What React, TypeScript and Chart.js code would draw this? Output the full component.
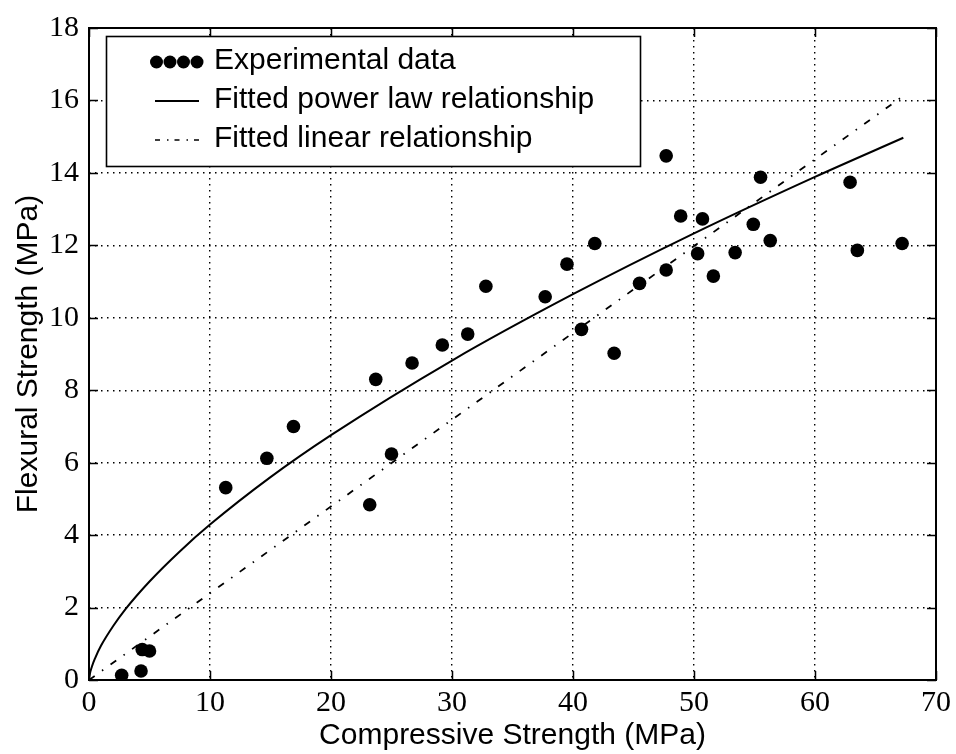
import React, { useEffect, useRef } from "react";
import { Chart, registerables } from "chart.js";

Chart.register(...registerables);

// ---- data ----
const expX = [2.7, 4.3, 4.4, 5.0, 11.3, 14.7, 16.9, 23.2, 23.7, 25.0, 26.7, 29.2, 31.3, 32.8, 37.7, 39.5, 40.7, 41.8, 43.4, 45.5, 47.7, 47.7, 48.9, 50.3, 50.7, 51.6, 53.4, 54.9, 55.5, 56.3, 62.9, 63.5, 67.2];
const expY = [0.13, 0.25, 0.84, 0.8, 5.31, 6.12, 7.0, 4.84, 8.3, 6.24, 8.75, 9.25, 9.55, 10.87, 10.58, 11.48, 9.68, 12.05, 9.02, 10.95, 11.32, 14.47, 12.81, 11.77, 12.73, 11.15, 11.8, 12.58, 13.88, 12.13, 13.74, 11.86, 12.05];

const powerX = [0, 0.05, 0.25, 0.5, 1, 2, 3, 5, 7.5, 10, 15, 20, 30, 40, 50, 60, 67.3];
const powerY = [0, 0.13, 0.38, 0.6, 0.95, 1.49, 1.95, 2.72, 3.55, 4.29, 5.6, 6.76, 8.82, 10.65, 12.33, 13.89, 14.97];

const linearX = [0, 67.2];
const linearY = [0, 16.1];

const xTickValues = [0, 10, 20, 30, 40, 50, 60, 70];
const yTickValues = [0, 2, 4, 6, 8, 10, 12, 14, 16, 18];

const seriesLabels = ["Experimental data", "Fitted power law relationship", "Fitted linear relationship"];
const xTitle = "Compressive Strength (MPa)";
const yTitle = "Flexural Strength (MPa)";

const DASH_DOT = [7, 9, 1.5, 9];
const SANS = '"Liberation Sans", Arial, sans-serif';
const SERIF = '"Liberation Serif", "Times New Roman", serif';

const overlayPlugin = {
  id: "overlay",
  afterDraw(chart: any) {
    const { ctx, chartArea: a, scales } = chart;
    const xs = scales.x;
    const ys = scales.y;
    ctx.save();
    ctx.strokeStyle = "#000";
    ctx.fillStyle = "#000";
    ctx.setLineDash([]);

    // inward ticks on all four sides
    ctx.lineWidth = 1.5;
    const TL = 9;
    ctx.beginPath();
    xs.ticks.forEach((t: any) => {
      const px = Math.round(xs.getPixelForValue(t.value)) + 0.5;
      ctx.moveTo(px, a.bottom);
      ctx.lineTo(px, a.bottom - TL);
      ctx.moveTo(px, a.top);
      ctx.lineTo(px, a.top + TL);
    });
    ys.ticks.forEach((t: any) => {
      const py = Math.round(ys.getPixelForValue(t.value)) + 0.5;
      ctx.moveTo(a.left, py);
      ctx.lineTo(a.left + TL, py);
      ctx.moveTo(a.right, py);
      ctx.lineTo(a.right - TL, py);
    });
    ctx.stroke();

    // frame
    ctx.lineWidth = 2;
    ctx.strokeRect(a.left, a.top, a.right - a.left, a.bottom - a.top);

    // legend box
    const lx = 106.5, ly = 36.5, lw = 534, lh = 130;
    ctx.fillStyle = "#fff";
    ctx.fillRect(lx, ly, lw, lh);
    ctx.lineWidth = 1.6;
    ctx.strokeStyle = "#000";
    ctx.strokeRect(lx, ly, lw, lh);

    ctx.fillStyle = "#000";
    // row 1: four dots
    [156.5, 170, 183.5, 197].forEach((cx) => {
      ctx.beginPath();
      ctx.arc(cx, 62, 6.5, 0, Math.PI * 2);
      ctx.fill();
    });
    // row 2: solid line
    ctx.lineWidth = 2;
    ctx.beginPath();
    ctx.moveTo(155, 101);
    ctx.lineTo(199, 101);
    ctx.stroke();
    // row 3: dash-dot
    ctx.lineWidth = 1.5;
    ctx.setLineDash([5, 7, 1.5, 6]);
    ctx.beginPath();
    ctx.moveTo(155, 140);
    ctx.lineTo(199, 140);
    ctx.stroke();
    ctx.setLineDash([]);

    ctx.font = `30px ${SANS}`;
    ctx.textAlign = "left";
    ctx.textBaseline = "alphabetic";
    ctx.fillText(seriesLabels[0], 214, 69);
    ctx.fillText(seriesLabels[1], 214, 108);
    ctx.fillText(seriesLabels[2], 214, 147);

    // axis titles
    ctx.textAlign = "center";
    ctx.fillText(xTitle, (a.left + a.right) / 2, 744);
    ctx.translate(37, (a.top + a.bottom) / 2);
    ctx.rotate(-Math.PI / 2);
    ctx.fillText(yTitle, 0, 0);
    ctx.restore();
  },
};

export default function App() {
  const ref = useRef<HTMLCanvasElement | null>(null);

  useEffect(() => {
    document.body.style.margin = "0";
    const canvas = ref.current;
    if (!canvas) return;

    const expData = expX.map((x, i) => ({ x, y: expY[i] }));
    const powerData = powerX.map((x, i) => ({ x, y: powerY[i] }));
    const linearData = linearX.map((x, i) => ({ x, y: linearY[i] }));

    const chart = new Chart(canvas, {
      type: "line",
      data: {
        datasets: [
          {
            label: seriesLabels[0],
            data: expData,
            showLine: false,
            pointRadius: 6.8,
            pointHoverRadius: 6.8,
            pointBackgroundColor: "#000",
            pointBorderWidth: 0,
            borderColor: "#000",
            backgroundColor: "#000",
          },
          {
            label: seriesLabels[1],
            data: powerData,
            borderColor: "#000",
            borderWidth: 2,
            pointRadius: 0,
            cubicInterpolationMode: "monotone",
            fill: false,
          },
          {
            label: seriesLabels[2],
            data: linearData,
            borderColor: "#000",
            borderWidth: 1.8,
            borderDash: DASH_DOT,
            pointRadius: 0,
            fill: false,
          },
        ],
      },
      options: {
        responsive: false,
        animation: false,
        events: [],
        layout: { padding: { top: 23, right: 18, left: 0, bottom: 0 } },
        plugins: {
          legend: { display: false },
          tooltip: { enabled: false },
          title: { display: false },
        },
        scales: {
          x: {
            type: "linear",
            min: 0,
            max: 70,
            afterBuildTicks: (s: any) => {
              s.ticks = xTickValues.map((v) => ({ value: v }));
            },
            afterFit: (s: any) => {
              s.height = 74;
            },
            ticks: {
              color: "#000",
              padding: 5,
              maxRotation: 0,
              autoSkip: false,
              font: { family: SERIF, size: 30 },
            },
            grid: { color: "#000", lineWidth: 1.4, drawTicks: false },
            border: { display: false, dash: [1.5, 4.5] },
          },
          y: {
            type: "linear",
            min: 0,
            max: 18,
            afterBuildTicks: (s: any) => {
              s.ticks = yTickValues.map((v) => ({ value: v }));
            },
            afterFit: (s: any) => {
              s.width = 89;
            },
            ticks: {
              color: "#000",
              padding: 10,
              autoSkip: false,
              font: { family: SERIF, size: 30 },
            },
            grid: { color: "#000", lineWidth: 1.4, drawTicks: false },
            border: { display: false, dash: [1.5, 4.5] },
          },
        },
      },
      plugins: [overlayPlugin],
    });

    return () => chart.destroy();
  }, []);

  return (
    <div style={{ width: 956, height: 754, background: "#fff" }}>
      <canvas ref={ref} width={956} height={754} style={{ display: "block" }} />
    </div>
  );
}
